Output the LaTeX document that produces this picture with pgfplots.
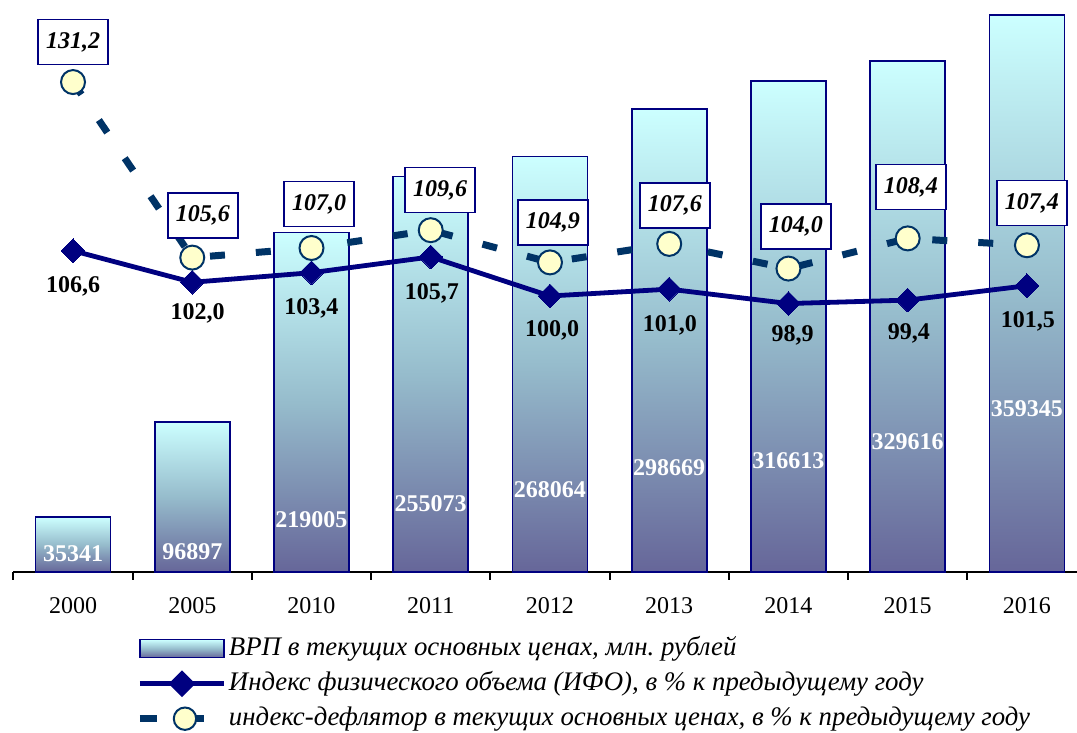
\documentclass[border=0pt]{standalone}
\usepackage{fontspec}
\setmainfont{Liberation Serif}
\usepackage{pgfplots}
\usepackage{pgfplotstable}
\pgfplotsset{compat=1.18}
\definecolor{barTop}{RGB}{204,255,255}
\definecolor{barMid}{RGB}{150,188,204}
\definecolor{barBot}{RGB}{102,102,153}
\definecolor{navyb}{RGB}{0,0,128}
\definecolor{defl}{RGB}{0,51,102}
\definecolor{circ}{RGB}{255,255,204}

\pgfplotstableread{
x vrp ifo defl
0 35341 106.6 131.2
1 96897 102.0 105.6
2 219005 103.4 107.0
3 255073 105.7 109.6
4 268064 100.0 104.9
5 298669 101.0 107.6
6 316613 98.9 104.0
7 329616 99.4 108.4
8 359345 101.5 107.4
}\data

\pgfplotstableread{
x y lab
0 11600 35341
1 12900 96897
2 33500 219005
3 43900 255073
4 52900 268064
5 67100 298669
6 71600 316613
7 83900 329616
8 105200 359345
}\barlabels

\pgfplotstableread{
x y lab
0 101.36 106,6
1.044 97.45 102,0
2 98.18 103,4
3.01 100.36 105,7
4.017 95.04 100,0
5.006 95.77 101,0
6.034 94.31 98,9
7.01 94.53 99,4
8.008 96.28 101,5
}\ifolabels

\pgfplotstableread{
x y lab
0 137.04 131,2
1.090 111.74 105,6
2.063 113.42 107,0
3.078 115.46 109,6
4.025 110.72 104,9
5.048 113.20 107,6
6.063 110.14 104,0
7.027 115.90 108,4
8.042 113.56 107,4
}\defllabels

\newcommand{\legbb}{\pgfpathrectangle{\pgfqpoint{0pt}{-3pt}}{\pgfqpoint{43.5pt}{6pt}}\pgfusepath{use as bounding box}}

\begin{document}
\begin{tikzpicture}
\pgfplotsset{
  base/.style={
    at={(0pt,0pt)}, anchor=south west,
    scale only axis, width=531.8pt, height=283.5pt,
    xmin=-0.5, xmax=8.42, clip=false,
    /pgf/number format/assume math mode=true,
  },
  barstyle/.style={ybar, bar width=0.629, bar shift=0pt, draw=navyb, line width=0.8pt,
    top color=barTop, bottom color=barBot, middle color=barMid},
}
\begin{axis}[base,
  ymin=0, ymax=365800,
  axis x line=bottom, axis y line=none,
  x axis line style={-, black, line width=1pt},
  xtick={0,...,8},
  xticklabels={2000,2005,2010,2011,2012,2013,2014,2015,2016},
  major tick length=0pt,
  minor xtick={-0.5,0.5,...,7.5},
  minor tick length=4pt,
  tick align=outside,
  minor tick style={black, line width=1pt},
  xticklabel style={font=\fontsize{12}{14}\selectfont, yshift=-9pt},
]
\pgfplotsinvokeforeach{0,...,8}{
  \addplot[barstyle, x filter/.expression={abs(x-#1)<0.1 ? x : nan}]
    table[x=x, y=vrp]{\data};
}
\addplot[draw=none, mark=none, forget plot, nodes near coords,
  point meta=explicit symbolic,
  every node near coord/.style={anchor=center, text=white,
    font=\fontsize{12}{14}\selectfont\bfseries}]
  table[x=x, y=y, meta=lab]{\barlabels};
\end{axis}

\begin{axis}[base,
  ymin=59.75, ymax=142.44,
  hide axis,
  legend style={at={(0.119,-0.1097)}, anchor=north west, draw=none, fill=none,
    inner sep=0pt, outer sep=0pt, row sep=3pt,
    font=\fontsize{13.4}{15}\selectfont\itshape,
    nodes={inner sep=1pt, text height=9.5pt, text depth=3pt}},
  legend cell align=left,
]
\addlegendimage{legend image code/.code={
  \legbb
  \draw[navyb, line width=0.8pt, top color=barTop, bottom color=barBot, middle color=barMid]
    (0pt,-4.5pt) rectangle (42pt,4.5pt);}}
\addlegendentry{ВРП в текущих основных ценах, млн.\ рублей}

\addplot[navyb, line width=2.4pt, mark=square*, mark size=4.2pt,
  mark options={rotate=45, fill=navyb, draw=navyb, line width=0pt},
  legend image code/.code={
    \legbb
    \draw[navyb, line width=2.2pt] (0pt,0pt) -- (42pt,0pt);
    \fill[navyb] (21pt,0pt) +(-5pt,0pt) -- +(0pt,5pt) -- +(5pt,0pt) -- +(0pt,-5pt) -- cycle;}]
  table[x=x, y=ifo]{\data};
\addlegendentry{Индекс физического объема (ИФО), в \% к предыдущему году}

\addplot[defl, line width=3.5pt, dash pattern=on 7.5pt off 15.5pt,
  mark=*, mark size=6pt,
  mark options={solid, fill=circ, draw=defl, line width=1pt},
  legend image code/.code={
    \legbb
    \draw[defl, line width=3.5pt, solid] (0pt,0pt) -- (8.5pt,0pt);
    \draw[defl, line width=3.5pt, solid] (27pt,0pt) -- (32pt,0pt);
    \filldraw[fill=circ, draw=defl, line width=1pt, solid] (22.5pt,0pt) circle (5.6pt);}]
  table[x=x, y=defl]{\data};
\addlegendentry{индекс-дефлятор в текущих основных ценах, в \% к предыдущему году}

\addplot[draw=none, mark=none, forget plot, nodes near coords,
  point meta=explicit symbolic,
  every node near coord/.style={anchor=center, text=black,
    font=\fontsize{12}{14}\selectfont\bfseries}]
  table[x=x, y=y, meta=lab]{\ifolabels};
\addplot[draw=none, mark=none, forget plot, nodes near coords,
  point meta=explicit symbolic,
  every node near coord/.style={anchor=center, text=black, draw=navyb, fill=white,
    line width=0.8pt, minimum width=35pt, minimum height=22.5pt, inner sep=0pt,
    font=\fontsize{12}{14}\selectfont\bfseries\itshape}]
  table[x=x, y=y, meta=lab]{\defllabels};
\end{axis}
\pgfresetboundingbox
\path[use as bounding box] (-6.7pt,-80.5pt) rectangle (531.8pt,286pt);
\end{tikzpicture}
\end{document}
